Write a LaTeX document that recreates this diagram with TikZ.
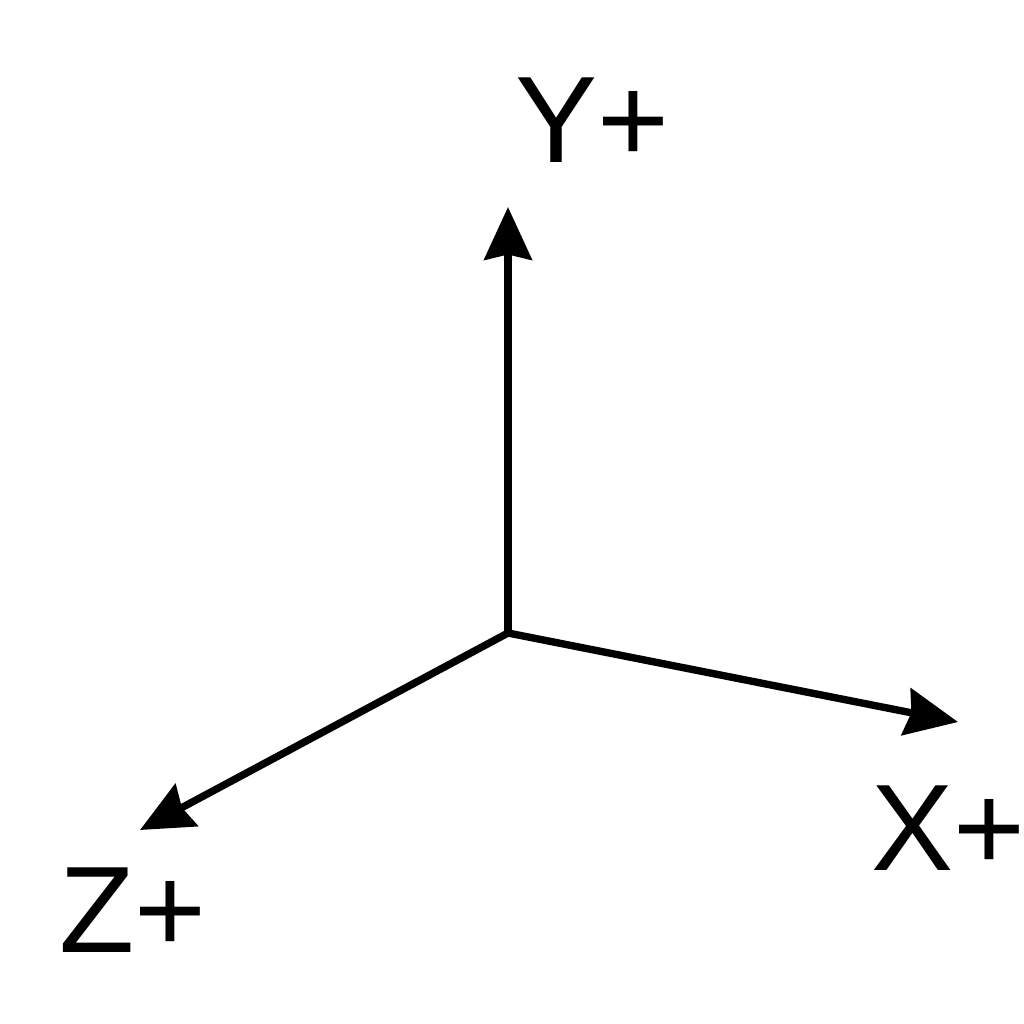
\documentclass[tikz,border=0pt]{standalone}
\usepackage{fontspec}
\setmainfont{Liberation Sans}
\usetikzlibrary{arrows.meta}

\begin{document}
\begin{tikzpicture}[x=0.01cm,y=-0.01cm,>={Stealth[length=15pt,width=13.5pt,inset=1.5pt]},
        axis/.style={->,line width=2.1pt,shorten >=0pt},
        lbl/.style={font=\fontsize{35}{40}\selectfont,inner sep=0pt}]
        	\useasboundingbox (0,0) rectangle (1024,1024);
        	\coordinate (o) at (508,633);
        	\coordinate (ytip) at (508,207);
        	\coordinate (xtip) at (958,722);
        	\coordinate (ztip) at (140,830);
           
           \node[lbl] (ylab) at (592,120) {Y+};
           \node[lbl] (xlab) at (948,828) {X+};
           \node[lbl] (zlab) at (133,910) {Z+};
           
  			\path[]
                     (o) edge[axis] (ytip)
                     (o) edge[axis] (xtip)
                     (o) edge[axis] (ztip)
                     ;
\end{tikzpicture}
\end{document}
